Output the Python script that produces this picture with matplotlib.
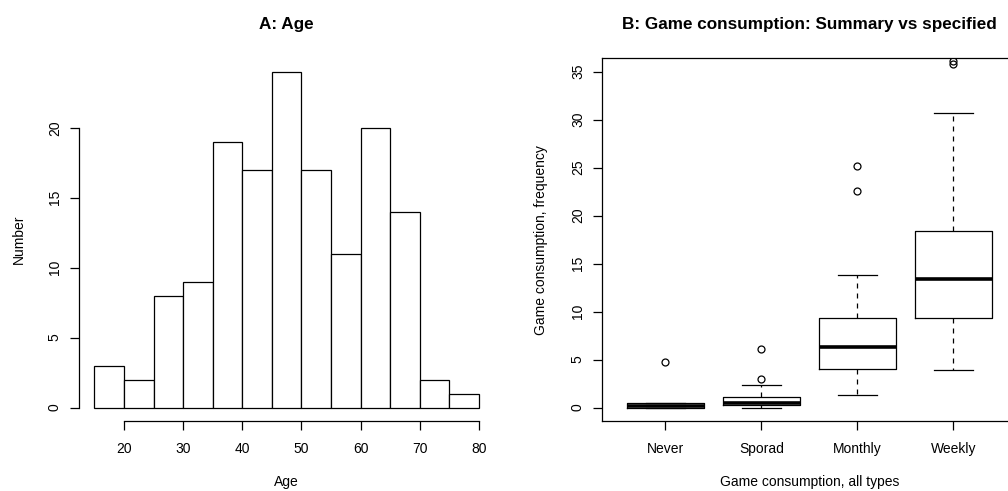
import numpy as np
import matplotlib
matplotlib.use("Agg")
import matplotlib.pyplot as plt

plt.rcParams['font.family'] = ['Liberation Sans', 'DejaVu Sans']

# A: age histogram (bins of 5 years)
age_edges = [15, 20, 25, 30, 35, 40, 45, 50, 55, 60, 65, 70, 75, 80]
age_counts = [3, 2, 8, 9, 19, 17, 24, 17, 11, 20, 14, 2, 1]

# B: game consumption boxplots
groups = ["Never", "Sporad", "Monthly", "Weekly"]
q1 = [0.0, 0.25, 4.06, 9.31]
med = [0.2, 0.46, 6.29, 13.41]
q3 = [0.52, 1.11, 9.31, 18.44]
whis_lo = [0.0, 0.0, 1.32, 3.93]
whis_hi = [0.52, 2.4, 13.79, 30.73]
outliers = [[4.73], [2.99, 6.15], [22.54, 25.15], [35.8, 36.1]]

W, H = 1008, 491
fig = plt.figure(figsize=(W / 100, H / 100), dpi=100)

lw = 0.9
tick_len = 6.3
fs = 10

# ---- left panel
ax1 = fig.add_axes([79 / W, (H - 421) / H, 415.4 / W, 362.7 / H])
ax1.hist(age_edges[:-1], bins=age_edges, weights=age_counts,
         facecolor='white', edgecolor='black', linewidth=lw)
ax1.set_xlim(12.4, 82.6)
ax1.set_ylim(-0.96, 24.96)
for s in ['top', 'right']:
    ax1.spines[s].set_visible(False)
ax1.spines['left'].set_bounds(0, 20)
ax1.spines['bottom'].set_bounds(20, 80)
ax1.set_xticks([20, 30, 40, 50, 60, 70, 80])
ax1.set_yticks([0, 5, 10, 15, 20])
ax1.set_title("A: Age", fontsize=12.3, fontweight='bold', y=1.08, pad=0)
ax1.set_xlabel("Age", fontsize=fs, va='center')
ax1.xaxis.set_label_coords(0.5, -0.168)
ax1.set_ylabel("Number", fontsize=fs, va='center')
ax1.yaxis.set_label_coords(-0.145, 0.5)

# ---- right panel (frame runs past the right edge of the image)
ax2 = fig.add_axes([602 / W, (H - 421) / H, 498 / W, 362.7 / H])
stats = []
for i, g in enumerate(groups):
    stats.append(dict(label=g, q1=q1[i], med=med[i], q3=q3[i],
                      whislo=whis_lo[i], whishi=whis_hi[i], fliers=outliers[i]))
ax2.bxp(stats, positions=[1, 2, 3, 4], widths=0.8, capwidths=0.4,
        boxprops=dict(color='black', linewidth=lw),
        medianprops=dict(color='black', linewidth=2.6, solid_capstyle='butt'),
        whiskerprops=dict(color='black', linewidth=lw, linestyle=(0, (4, 4))),
        capprops=dict(color='black', linewidth=lw),
        flierprops=dict(marker='o', markerfacecolor='none', markeredgecolor='black',
                        markersize=5, markeredgewidth=lw))
ax2.set_xlim(0.34, 0.34 + 498 / 96)
ax2.set_ylim(-1.4, 36.4)
ax2.spines['right'].set_visible(False)
ax2.set_yticks([0, 5, 10, 15, 20, 25, 30, 35])
ax2.set_title("B: Game consumption: Summary vs specified", fontsize=12.3,
              fontweight='bold', y=1.08, pad=0)
ax2.title.set_x(414.7 / 2 / 498)
ax2.set_xlabel("Game consumption, all types", fontsize=fs, va='center')
ax2.xaxis.set_label_coords(414.7 / 2 / 498, -0.168)
ax2.set_ylabel("Game consumption, frequency", fontsize=fs, va='center')
ax2.yaxis.set_label_coords(-61 / 498, 0.5)

for ax in (ax1, ax2):
    for s in ax.spines.values():
        s.set_linewidth(lw)
    ax.tick_params(direction='out', length=tick_len, width=lw, labelsize=fs, pad=8.5)
    ax.tick_params(axis='y', pad=6)
    for t in ax.get_yticklabels():
        t.set_rotation(90)
        t.set_va('center')

fig.savefig("out.png", dpi=100, facecolor='white')
